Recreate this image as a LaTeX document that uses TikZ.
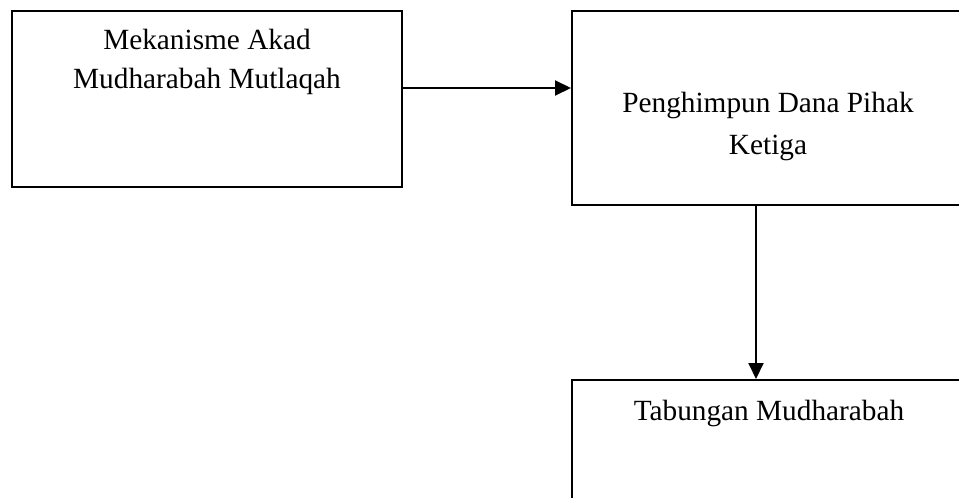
\documentclass[tikz,border=0pt]{standalone}
\usepackage{fontspec}
\setmainfont{Liberation Serif}
\usetikzlibrary{arrows.meta}
\begin{document}
\begin{tikzpicture}[x=1pt,y=-1pt,
  box/.style={draw=black, line width=2pt, rectangle, inner sep=0pt},
  txt/.style={anchor=base, inner sep=0pt, font=\fontsize{29.3}{38}\selectfont},
  arr/.style={line width=2pt, -{Triangle[length=16pt,width=15pt]}}]
\useasboundingbox (0,0) rectangle (959,498);
\clip (0,0) rectangle (959,498);
\fill[white] (0,0) rectangle (959,498);
\node[box, minimum width=390pt, minimum height=176pt] (b1) at (207,99) {};
\node[box, minimum width=394pt, minimum height=194pt] (b2) at (769,108) {};
\node[box, minimum width=394pt, minimum height=180pt] (b3) at (769,470) {};
\node[txt] (t1a) at (207,49) {Mekanisme Akad};
\node[txt] (t1b) at (207,88) {Mudharabah Mutlaqah};
\node[txt] (t2a) at (768,112) {Penghimpun Dana Pihak};
\node[txt] (t2b) at (768,154) {Ketiga};
\node[txt] (t3) at (769,420) {Tabungan Mudharabah};
\coordinate (h) at (0,88);
\coordinate (v) at (756,0);
\draw[arr] (b1.east |- h) -- (b2.west |- h);
\draw[arr] (b2.south -| v) -- (b3.north -| v);
\end{tikzpicture}
\end{document}
